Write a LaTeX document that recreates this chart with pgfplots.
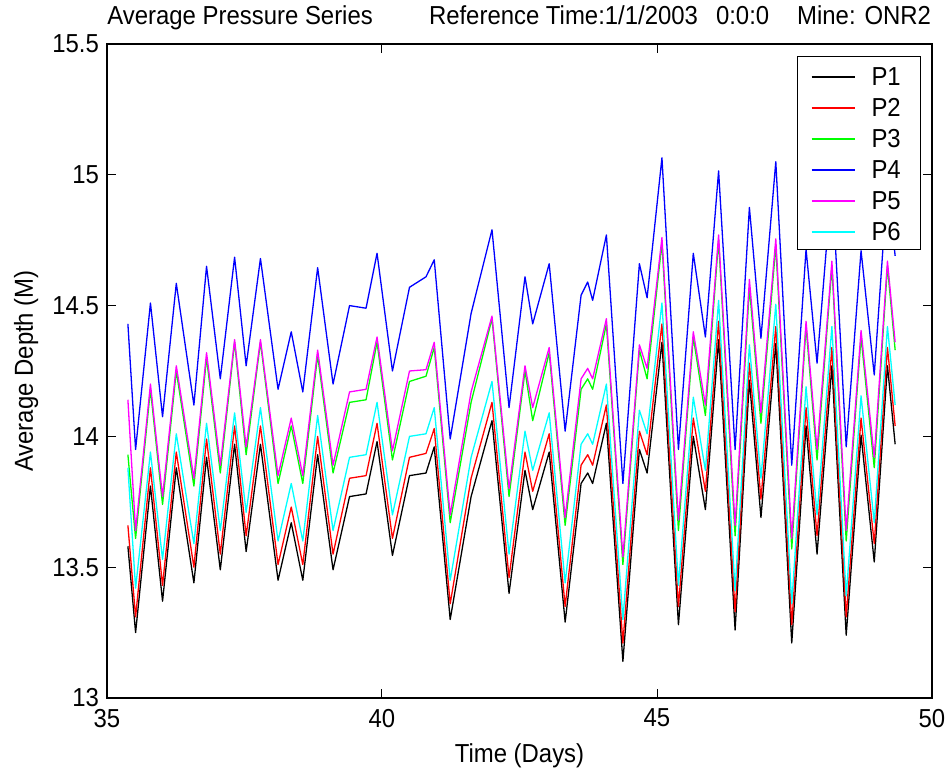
\documentclass[border=0pt]{standalone}
\usepackage{fontspec}
\setmainfont{Liberation Sans}[FakeStretch=0.92]
\usepackage{pgfplots}
\pgfplotsset{compat=1.18}
\usepackage{pgfplotstable}
\newcommand\chartfont{\fontsize{13pt}{15pt}\selectfont}
\definecolor{mblack}{RGB}{0,0,0}
\definecolor{mred}{RGB}{255,0,0}
\definecolor{mgreen}{RGB}{0,255,0}
\definecolor{mblue}{RGB}{0,0,255}
\definecolor{mmagenta}{RGB}{255,0,255}
\definecolor{mcyan}{RGB}{0,255,255}

\pgfplotstableread{
x P1 P2 P3 P4 P5 P6
35.38 13.58 13.66 13.93 14.43 14.14 13.88
35.52 13.25 13.31 13.61 13.95 13.64 13.42
35.79 13.81 13.88 14.18 14.51 14.20 13.94
36.01 13.37 13.43 13.74 14.075 13.77 13.53
36.26 13.88 13.94 14.25 14.585 14.27 14.01
36.58 13.44 13.50 13.81 14.12 13.84 13.59
36.81 13.92 13.99 14.30 14.65 14.32 14.05
37.06 13.49 13.55 13.86 14.22 13.89 13.64
37.32 13.97 14.04 14.36 14.685 14.37 14.09
37.53 13.56 13.62 13.93 14.27 13.96 13.71
37.79 13.97 14.04 14.36 14.68 14.37 14.11
38.11 13.45 13.51 13.82 14.18 13.85 13.60
38.35 13.67 13.73 14.04 14.40 14.07 13.82
38.56 13.45 13.51 13.82 14.17 13.85 13.60
38.83 13.93 14.00 14.31 14.645 14.33 14.08
39.11 13.49 13.55 13.86 14.20 13.89 13.64
39.41 13.77 13.84 14.13 14.50 14.17 13.92
39.71 13.78 13.85 14.14 14.49 14.18 13.93
39.91 13.98 14.05 14.36 14.70 14.38 14.13
40.19 13.545 13.61 13.91 14.25 13.945 13.70
40.50 13.85 13.92 14.21 14.57 14.25 14.00
40.80 13.86 13.935 14.23 14.61 14.255 14.01
40.95 13.96 14.03 14.34 14.675 14.36 14.11
41.24 13.30 13.36 13.67 13.99 13.70 13.45
41.62 13.77 13.84 14.13 14.47 14.17 13.92
42.00 14.06 14.13 14.45 14.79 14.46 14.21
42.31 13.40 13.46 13.77 14.11 13.80 13.55
42.60 13.87 13.94 14.25 14.61 14.27 14.02
42.74 13.72 13.79 14.06 14.43 14.11 13.87
43.04 13.94 14.01 14.32 14.66 14.34 14.09
43.33 13.29 13.35 13.66 14.02 13.69 13.44
43.62 13.82 13.89 14.18 14.54 14.22 13.97
43.74 13.86 13.93 14.22 14.59 14.26 14.01
43.83 13.82 13.89 14.18 14.52 14.22 13.97
44.08 14.05 14.12 14.43 14.77 14.45 14.20
44.38 13.14 13.21 13.51 13.82 13.54 13.30
44.68 13.95 14.02 14.33 14.66 14.35 14.10
44.82 13.86 13.93 14.22 14.53 14.26 14.01
45.09 14.36 14.43 14.74 15.065 14.76 14.51
45.39 13.28 13.35 13.64 13.95 13.68 13.43
45.66 14.00 14.07 14.38 14.70 14.40 14.15
45.88 13.72 13.79 14.08 14.38 14.12 13.87
46.12 14.37 14.44 14.75 15.015 14.77 14.52
46.42 13.26 13.33 13.62 13.95 13.66 13.41
46.68 14.215 14.28 14.57 14.875 14.60 14.35
46.89 13.69 13.76 14.05 14.375 14.09 13.84
47.16 14.355 14.42 14.73 15.05 14.755 14.505
47.45 13.21 13.28 13.57 13.89 13.61 13.36
47.71 14.04 14.11 14.42 14.715 14.44 14.19
47.91 13.55 13.62 13.91 14.28 13.95 13.70
48.18 14.27 14.34 14.65 14.98 14.67 14.42
48.44 13.24 13.31 13.60 13.96 13.64 13.39
48.71 14.005 14.07 14.38 14.71 14.405 14.155
48.95 13.52 13.59 13.88 14.235 13.92 13.67
49.19 14.27 14.34 14.65 14.97 14.67 14.42
49.33 13.97 14.04 14.33 14.69 14.36 14.12
}\datatable

\begin{document}
\begin{tikzpicture}[font=\chartfont]
\begin{axis}[
  scale only axis,
  width=412.5pt, height=327pt,
  xmin=35, xmax=50, ymin=13, ymax=15.5,
  xtick={35,40,45,50},
  ytick={13,13.5,14,14.5,15,15.5},
  minor tick num=0,
  tick align=inside,
  major tick length=4.5pt,
  tick style={black, line width=0.5pt},
  axis line style={black, line width=0.6pt},
  /pgf/number format/assume math mode=true,
  tick label style={font=\chartfont},
  xticklabel style={yshift=-2pt},
  yticklabel style={xshift=-0.5pt},
  xlabel={Time (Days)},
  ylabel={Average Depth (M)},
  xlabel style={at={(axis description cs:0.5,-0.0979)}, anchor=base, font=\chartfont},
  ylabel style={at={(axis description cs:-0.0897,0.5)}, anchor=base, font=\chartfont},
  title={Average Pressure Series\hspace*{28.1pt}Reference Time:1/1/2003\hspace*{9pt}0:0:0\hspace*{14pt}Mine: ONR2},
  title style={at={(axis description cs:0,1)}, anchor=base west, yshift=3.5pt, inner sep=0pt, font=\chartfont},
  legend style={at={(axis description cs:0.8364,0.9817)}, anchor=north west,
    draw=black, line width=0.5pt, fill=white,
    inner xsep=6.5pt, inner ysep=1.75pt,
    row sep=0pt, column sep=8pt, font=\chartfont,
    cells={anchor=base west},
    nodes={inner sep=0pt, text height=12.9pt, text depth=2.6pt, anchor=base west}},
  legend image code/.code={\draw[#1, line width=1pt] (0pt,4.4pt) -- (21.5pt,4.4pt);},
  every axis plot/.append style={line width=0.65pt, line join=round},
]
\addplot[mblack] table[x=x, y=P1] {\datatable};
\addlegendentry{\makebox[18pt][l]{P1}}
\addplot[mred] table[x=x, y=P2] {\datatable};
\addlegendentry{\makebox[18pt][l]{P2}}
\addplot[mgreen] table[x=x, y=P3] {\datatable};
\addlegendentry{\makebox[18pt][l]{P3}}
\addplot[mblue] table[x=x, y=P4] {\datatable};
\addlegendentry{\makebox[18pt][l]{P4}}
\addplot[mmagenta] table[x=x, y=P5] {\datatable};
\addlegendentry{\makebox[18pt][l]{P5}}
\addplot[mcyan] table[x=x, y=P6] {\datatable};
\addlegendentry{\makebox[18pt][l]{P6}}
\end{axis}
\pgfresetboundingbox
\useasboundingbox (-53.5pt,-36.5pt) rectangle (421pt,349pt);
\end{tikzpicture}
\end{document}
